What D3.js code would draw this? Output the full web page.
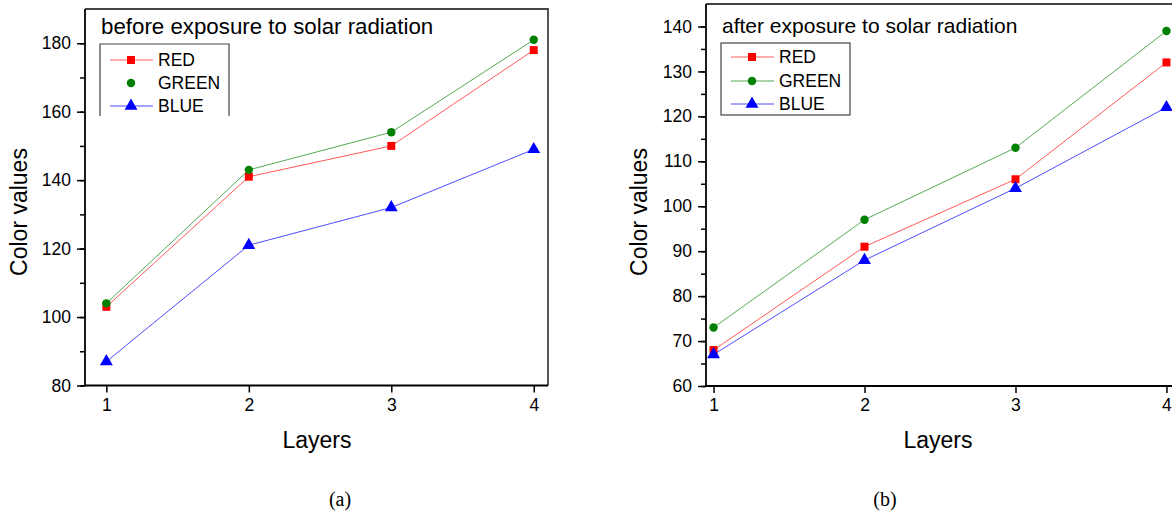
<!DOCTYPE html>
<html>
  <head>
    <meta charset="utf-8">
    <title>Color values vs layers</title>
    <script src="https://cdn.jsdelivr.net/npm/d3@7"></script>
    <style>
      body { margin: 0; background: #fff; }
    </style>
  </head>
  <body>
    <script>
      var w = 1172;
      var h = 518;

      // data
      var layers = [1, 2, 3, 4];
      var seriesNames = ['RED', 'GREEN', 'BLUE'];
      var beforeRed = [103, 141, 150, 178];
      var beforeGreen = [104, 143, 154, 181];
      var beforeBlue = [87, 121, 132, 149];
      var afterRed = [68, 91, 106, 132];
      var afterGreen = [73, 97, 113, 139];
      var afterBlue = [67, 88, 104, 122];
      var ticksBefore = [80, 100, 120, 140, 160, 180];
      var ticksAfter = [60, 70, 80, 90, 100, 110, 120, 130, 140];

      var sans = '"Liberation Sans", Arial, sans-serif';
      var serif = '"Liberation Serif", "Times New Roman", serif';

      var markColor = {RED: '#ff0000', GREEN: '#008000', BLUE: '#0000ff'};
      var lineColor = {RED: '#ff5a5a', GREEN: '#55a855', BLUE: '#4d4dff'};
      var shape = {RED: d3.symbolSquare, GREEN: d3.symbolCircle, BLUE: d3.symbolTriangle};
      var size = {RED: 64, GREEN: 56, BLUE: 72};

      var svg = d3.select('body').append('svg')
        .attr('width', w)
        .attr('height', h)
        .attr('font-family', sans);

      svg.append('rect').attr('width', w).attr('height', h).attr('fill', '#fff');

      function panel(cfg) {
        var x = d3.scaleLinear().domain(cfg.xDomain).range(cfg.xRange);
        var y = d3.scaleLinear().domain(cfg.yDomain).range(cfg.yRange);
        var g = svg.append('g');
        var left = cfg.xRange[0], right = cfg.xRange[1];
        var top = cfg.yRange[1], bottom = cfg.yRange[0];

        var clip = 'clip' + cfg.id;
        svg.append('clipPath').attr('id', clip)
          .append('rect').attr('x', left).attr('y', top)
          .attr('width', right - left).attr('height', bottom - top);

        // frame top / right
        g.append('path')
          .attr('d', 'M' + left + ',' + top + 'H' + right + 'V' + bottom)
          .attr('fill', 'none').attr('stroke', '#444').attr('stroke-width', 1.8);

        var series = [
          {name: 'RED', values: cfg.red},
          {name: 'GREEN', values: cfg.green},
          {name: 'BLUE', values: cfg.blue}
        ];

        var line = d3.line()
          .x(function(d, i) { return x(layers[i]); })
          .y(function(d) { return y(d); });

        var plot = g.append('g').attr('clip-path', 'url(#' + clip + ')');
        plot.selectAll('path.series')
          .data(series)
          .enter()
          .append('path')
          .attr('class', 'series')
          .attr('d', function(d) { return line(d.values); })
          .attr('fill', 'none')
          .attr('stroke', function(d) { return lineColor[d.name]; })
          .attr('stroke-width', 1);

        series.forEach(function(s) {
          g.selectAll('path.m' + s.name)
            .data(s.values)
            .enter()
            .append('path')
            .attr('class', 'm' + s.name)
            .attr('transform', function(d, i) { return 'translate(' + x(layers[i]) + ',' + y(d) + ')'; })
            .attr('d', d3.symbol().type(shape[s.name]).size(size[s.name]))
            .attr('fill', markColor[s.name]);
        });

        // y axis with minor ticks
        var minor = d3.range(cfg.yDomain[0], cfg.yDomain[1], cfg.minorStep);
        g.append('g')
          .attr('transform', 'translate(' + left + ',0)')
          .call(d3.axisLeft(y).tickValues(minor).tickSize(5).tickFormat(''))
          .call(function(a) { a.select('.domain').remove(); a.selectAll('line').attr('stroke-width', 1.5); });
        var ya = g.append('g')
          .attr('transform', 'translate(' + left + ',0)')
          .call(d3.axisLeft(y).tickValues(cfg.yTicks).tickSize(8).tickSizeOuter(0).tickPadding(6))
          .attr('font-size', 17.5)
          .attr('font-family', sans);
        ya.select('.domain').attr('stroke-width', 1.8).attr('d', 'M0,' + bottom + 'V' + top);
        ya.selectAll('line').attr('stroke-width', 1.5);

        // x axis
        var xa = g.append('g')
          .attr('transform', 'translate(0,' + bottom + ')')
          .call(d3.axisBottom(x).tickValues(layers).tickSize(7).tickSizeOuter(0).tickPadding(6).tickFormat(d3.format('d')))
          .attr('font-size', 17.5)
          .attr('font-family', sans);
        xa.select('.domain').attr('stroke-width', 1.8).attr('d', 'M' + left + ',0H' + right);
        xa.selectAll('line').attr('stroke-width', 1.5);

        // axis titles
        g.append('text')
          .attr('transform', 'translate(' + cfg.yTitleX + ',' + 212 + ') rotate(-90)')
          .attr('text-anchor', 'middle')
          .attr('font-size', 23)
          .text('Color values');
        g.append('text')
          .attr('x', cfg.xTitleX).attr('y', 448)
          .attr('text-anchor', 'middle')
          .attr('font-size', 23)
          .text('Layers');

        // title inside plot
        g.append('text')
          .attr('x', cfg.titleX).attr('y', cfg.titleY)
          .attr('font-size', cfg.titleSize)
          .text(cfg.title);

        // legend
        var lg = cfg.legend;
        if (lg.closed) {
          g.append('rect').attr('x', lg.x).attr('y', lg.y).attr('width', lg.w).attr('height', lg.h)
            .attr('fill', 'none').attr('stroke', '#444').attr('stroke-width', 1.2);
        } else {
          g.append('path')
            .attr('d', 'M' + lg.x + ',' + (lg.y + lg.h) + 'V' + lg.y + 'H' + (lg.x + lg.w) + 'V' + (lg.y + lg.h))
            .attr('fill', 'none').attr('stroke', '#444').attr('stroke-width', 1.2);
        }
        seriesNames.forEach(function(name, i) {
          var cy = lg.rows[i];
          if (!(name === 'GREEN' && !lg.greenLine)) {
            g.append('line')
              .attr('x1', lg.x + 10).attr('x2', lg.x + 53)
              .attr('y1', cy).attr('y2', cy)
              .attr('stroke', lineColor[name]).attr('stroke-width', 1);
          }
          g.append('path')
            .attr('transform', 'translate(' + (lg.x + 31) + ',' + cy + ')')
            .attr('d', d3.symbol().type(shape[name]).size(size[name]))
            .attr('fill', markColor[name]);
          g.append('text')
            .attr('x', lg.x + 58).attr('y', cy + 6)
            .attr('font-size', 17.5)
            .text(name);
        });

        // caption
        svg.append('text')
          .attr('x', cfg.captionX).attr('y', 506)
          .attr('text-anchor', 'middle')
          .attr('font-family', serif)
          .attr('font-size', 20)
          .text(cfg.caption);
      }

      panel({
        id: 'a',
        xDomain: [0.85, 4.1], xRange: [85, 548],
        yDomain: [80, 190], yRange: [385.5, 9],
        yTicks: ticksBefore, minorStep: 10,
        red: beforeRed, green: beforeGreen, blue: beforeBlue,
        yTitleX: 27, xTitleX: 317,
        title: 'before exposure to solar radiation', titleX: 101, titleY: 34, titleSize: 22.3,
        legend: {x: 100, y: 44, w: 129, h: 72, closed: false, greenLine: false, rows: [60, 83, 106]},
        caption: '(a)', captionX: 340
      });

      panel({
        id: 'b',
        xDomain: [0.95, 4.05], xRange: [706, 1174],
        yDomain: [60, 145], yRange: [386, 4],
        yTicks: ticksAfter, minorStep: 5,
        red: afterRed, green: afterGreen, blue: afterBlue,
        yTitleX: 647, xTitleX: 938,
        title: 'after exposure to solar radiation', titleX: 722, titleY: 33, titleSize: 21,
        legend: {x: 721, y: 43, w: 129, h: 72, closed: true, greenLine: true, rows: [57, 81, 104]},
        caption: '(b)', captionX: 885
      });
    </script>
  </body>
</html>
